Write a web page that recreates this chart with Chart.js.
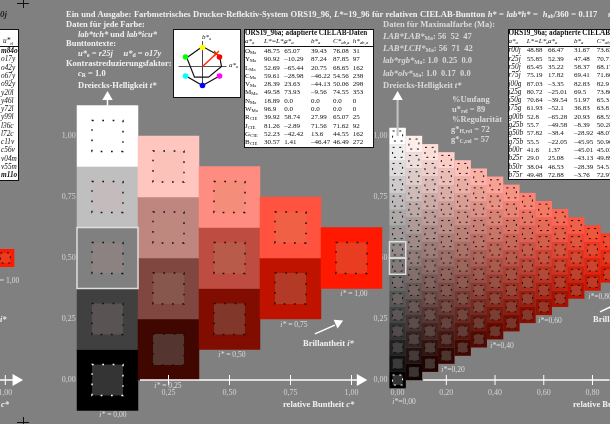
<!DOCTYPE html>
<html>
<head>
<meta charset="utf-8">
<script src="https://cdn.jsdelivr.net/npm/chart.js@4"></script>
<style>
html, body { margin: 0; padding: 0; width: 610px; height: 424px; overflow: hidden; background: #808080; }
body { position: relative; font-family: "Liberation Serif", serif; }
#main { position: absolute; left: 0; top: 0; filter: blur(0.35px); }
#overlay { filter: blur(0.3px); }
.t { position: absolute; white-space: nowrap; transform: translateY(-50%); line-height: 1; }
.b { font-weight: bold; color: #f0f0f0; font-size: 8.5px; }
.g { font-weight: bold; color: #d8d8d8; font-size: 8.5px; }
.s { color: #dcdcdc; font-size: 7.6px; }
.c { transform: translate(-50%, -50%); }
.d { color: #111; font-size: 7px; }
.n { color: #111; font-size: 7.3px; }
.dark { color: #222; font-weight: bold; font-style: italic; font-size: 9px; }
sub { font-size: 68%; line-height: 0; vertical-align: -0.25em; }
.box { position: absolute; background: #fff; border: 1.5px solid #111; box-sizing: border-box; }
.rule { position: absolute; background: #111; height: 1px; }
.tick { position: absolute; background: #111; }
</style>
</head>
<body>
<canvas id="main" width="610" height="424"></canvas>
<div id="overlay"></div>
<script>
// coarse triangle: c* and t* of each cell
const coarseC = [0, 0, 0, 0, 0, 0.25, 0.25, 0.25, 0.25, 0.5, 0.5, 0.5, 0.75, 0.75, 1];
const coarseT = [0, 0.25, 0.5, 0.75, 1, 0.125, 0.375, 0.625, 0.875, 0.25, 0.5, 0.75, 0.375, 0.625, 0.5];

// fine triangle, one t* list per c* column (last columns run off the page)
const fineC = [0, 0.067, 0.133, 0.2, 0.267, 0.333, 0.4, 0.467, 0.533, 0.6, 0.667, 0.733, 0.8, 0.867];
const fineT = [
    [0, 0.067, 0.133, 0.2, 0.267, 0.333, 0.4, 0.467, 0.533, 0.6, 0.667, 0.733, 0.8, 0.867, 0.933, 1],
    [0.033, 0.1, 0.167, 0.233, 0.3, 0.367, 0.433, 0.5, 0.567, 0.633, 0.7, 0.767, 0.833, 0.9, 0.967],
    [0.067, 0.133, 0.2, 0.267, 0.333, 0.4, 0.467, 0.533, 0.6, 0.667, 0.733, 0.8, 0.867, 0.933],
    [0.1, 0.167, 0.233, 0.3, 0.367, 0.433, 0.5, 0.567, 0.633, 0.7, 0.767, 0.833, 0.9],
    [0.133, 0.2, 0.267, 0.333, 0.4, 0.467, 0.533, 0.6, 0.667, 0.733, 0.8, 0.867],
    [0.167, 0.233, 0.3, 0.367, 0.433, 0.5, 0.567, 0.633, 0.7, 0.767, 0.833],
    [0.2, 0.267, 0.333, 0.4, 0.467, 0.533, 0.6, 0.667, 0.733, 0.8],
    [0.233, 0.3, 0.367, 0.433, 0.5, 0.567, 0.633, 0.7, 0.767],
    [0.267, 0.333, 0.4, 0.467, 0.533, 0.6, 0.667, 0.733],
    [0.3, 0.367, 0.433, 0.5, 0.567, 0.633, 0.7],
    [0.333, 0.4, 0.467, 0.533, 0.6, 0.667],
    [0.367, 0.433, 0.5, 0.567, 0.633],
    [0.4, 0.467, 0.533, 0.6],
    [0.433, 0.5, 0.567]
];

const coarseTicks = [0.25, 0.5, 0.75, 1];
const fineTicks = [0, 0.2, 0.4, 0.6, 0.8];
const yTicks = [0, 0.25, 0.5, 0.75, 1];

// hue diagram, a*/b* in diagram units
const hueDotA = [0, 17, 17, 0, -17, -17];
const hueDotB = [19, 9.5, -9.5, -19, -9.5, 9.5];
const hueDotColors = ['#ffff00', '#ff0000', '#ff00ff', '#0000ff', '#00ffff', '#00ff00'];
const huePolyA = [0, 17, 19, 6, -8, -15.7, 0];
const huePolyB = [20, 10.7, 0, -10.7, -10.7, 8.7, 20];
const hueLowerA = [-16.5, 0, 17];
const hueLowerB = [-9.5, -19, -9.5];

const tableHead = ['a*<sub>a</sub>', 'L*=L*<sub>a</sub>', 'a*<sub>a</sub>', 'b*<sub>a</sub>', 'C*<sub>ab,a</sub>', 'h*<sub>ab,a</sub>'];
const maNames = ['O<sub>Ma</sub>', 'Y<sub>Ma</sub>', 'L<sub>Ma</sub>', 'C<sub>Ma</sub>', 'V<sub>Ma</sub>', 'M<sub>Ma</sub>', 'N<sub>Ma</sub>', 'W<sub>Ma</sub>', 'R<sub>CIE</sub>', 'J<sub>CIE</sub>', 'G<sub>CIE</sub>', 'B<sub>CIE</sub>'];
const maL = ['48.75', '90.92', '52.69', '59.61', '28.39', '49.58', '18.89', '96.9', '39.92', '81.26', '52.23', '30.57'];
const maA = ['65.07', '–10.29', '–65.44', '–28.98', '23.63', '73.93', '0.0', '0.0', '58.74', '–2.89', '–42.42', '1.41'];
const maB = ['39.43', '87.24', '20.75', '–46.22', '–44.13', '–9.56', '0.0', '0.0', '27.99', '71.56', '13.6', '–46.47'];
const maC = ['76.08', '87.85', '68.65', '54.56', '50.06', '74.55', '0.0', '0.0', '65.07', '71.62', '44.55', '46.49'];
const maH = ['31', '97', '162', '238', '298', '353', '0', '0', '25', '92', '162', '272'];

const stepNames = ['r00j', 'r25j', 'r50j', 'r75j', 'j00g', 'j25g', 'j50g', 'j75g', 'g00b', 'g25b', 'g50b', 'g75b', 'b00r', 'b25r', 'b50r', 'b75r'];
const stepL = ['48.88', '55.85', '65.45', '75.19', '87.03', '80.72', '70.64', '61.93', '52.8', '55.7', '57.82', '55.5', '41.6', '29.0', '38.04', '49.48'];
const stepA = ['66.47', '52.39', '35.22', '17.82', '–3.35', '–25.01', '–39.54', '–52.1', '–65.28', '–49.58', '–38.4', '–22.05', '1.37', '25.08', '46.53', '72.88'];
const stepB = ['31.67', '47.48', '58.37', '69.41', '82.83', '69.5', '51.97', '36.83', '20.93', '–8.39', '–28.92', '–45.95', '–45.01', '–43.13', '–28.39', '–3.76'];
const stepC = ['73.63', '70.71', '68.17', '71.66', '82.9', '73.86', '65.3', '63.8', '68.55', '50.28', '48.07', '50.96', '45.03', '49.89', '54.51', '72.97'];

const elemNames = ['m84o', 'o17y', 'o42y', 'o67y', 'o92y', 'y20l', 'y46l', 'y72l', 'y99l', 'l36c', 'l72c', 'c11v', 'c56v', 'v04m', 'v55m', 'm11o'];

const coarsePoints = coarseC.map((c, i) => ({ x: c, y: coarseT[i] }));
const finePoints = [];
fineC.forEach((c, i) => fineT[i].forEach(t => finePoints.push({ x: c, y: t })));

const maRgb = [255, 25, 0];

function outerRgb(c, t) {
    const w = Math.max(t - c / 2, 0);
    return maRgb.map(v => w * 255 + c * v);
}
function outerColor(ctx) {
    const v = outerRgb(ctx.raw.x, ctx.raw.y);
    return `rgb(${v[0]},${v[1]},${v[2]})`;
}
// inner squares: printed output, lifted black point, warm in the mids, duller red
const innerPull = [22, 0, 18];
function innerColor(ctx) {
    const c = ctx.raw.x;
    const v = outerRgb(c, ctx.raw.y).map((o, k) => {
        const n = o / 255;
        return 52 + 203 * Math.pow(n, 1.2) - (k ? 40 * n * (1 - n) : 0) - innerPull[k] * c;
    });
    return `rgb(${v[0]},${v[1]},${v[2]})`;
}

function squares(points, xAxisID, side, color) {
    return {
        data: points, xAxisID: xAxisID, yAxisID: 'y', showLine: false,
        pointStyle: 'rect', pointRadius: side / Math.SQRT2, pointBorderWidth: 0,
        pointBackgroundColor: color
    };
}
function line(xs, ys, xAxisID, color, width) {
    return {
        data: xs.map((x, i) => ({ x: x, y: ys[i] })), xAxisID: xAxisID, yAxisID: 'y',
        showLine: true, borderColor: color, borderWidth: width, pointRadius: 0
    };
}
function arrow(x, y, xAxisID, rotation, color, radius) {
    return {
        data: [{ x: x, y: y }], xAxisID: xAxisID, yAxisID: 'y', showLine: false,
        pointStyle: 'triangle', pointRotation: rotation, pointRadius: radius,
        pointBorderWidth: 0, pointBackgroundColor: color
    };
}
function tickMarks(values, xAxisID) {
    return {
        data: values.map(v => ({ x: v, y: 0 })), xAxisID: xAxisID, yAxisID: 'y', showLine: false,
        pointStyle: 'line', pointRotation: 90, pointRadius: 5,
        pointBorderWidth: 1, pointBorderColor: '#ffffff'
    };
}
function outline(points, xAxisID, side) {
    return {
        data: points, xAxisID: xAxisID, yAxisID: 'y', showLine: false,
        pointStyle: 'rect', pointRadius: side / Math.SQRT2,
        pointBorderWidth: 1.5, pointBorderColor: '#dedede', pointBackgroundColor: 'rgba(0,0,0,0)'
    };
}

const coarseInner = squares(coarsePoints, 'x', 31, innerColor);
coarseInner.marks = { side: 31, dash: [1.7, 8.63] };
const fineInner = squares(finePoints, 'x2', 10, innerColor);
fineInner.marks = { side: 10, dash: [2, 4.67] };
const farInner = squares([{ x: 1, y: 0.5 }], 'x0', 10, innerColor);
farInner.marks = { side: 10, dash: [2, 4.67] };

const innerMarks = {
    id: 'innerMarks',
    afterDatasetsDraw(chart) {
        const g = chart.ctx;
        chart.data.datasets.forEach((ds, i) => {
            if (!ds.marks) return;
            g.save();
            g.lineWidth = ds.marks.side > 20 ? 1.4 : 1;
            g.setLineDash(ds.marks.dash);
            chart.getDatasetMeta(i).data.forEach((pt, j) => {
                const raw = ds.data[j];
                g.strokeStyle = (raw.x === 0 && raw.y === 0) ? '#ffffff' : '#111111';
                const s = ds.marks.side;
                g.strokeRect(pt.x - s / 2, pt.y - s / 2, s, s);
            });
            g.restore();
        });
    }
};

function comma(v) { return v.toFixed(2).replace('.', ','); }
const tickFont = { family: 'Liberation Serif', size: 8 };
// the axes sit inside the plot, they must not take room from it
function noRoom(axis) {
    axis.width = axis.isHorizontal() ? axis.width : 0;
    axis.height = axis.isHorizontal() ? 0 : axis.height;
    axis.paddingLeft = axis.paddingRight = axis.paddingTop = axis.paddingBottom = 0;
}
function xScale(min, max, ticks) {
    return {
        type: 'linear', min: min, max: max, position: { y: 0 },
        grid: { display: false, drawTicks: false }, border: { display: false },
        afterFit: noRoom,
        afterBuildTicks(axis) { axis.ticks = ticks.map(v => ({ value: v })); },
        ticks: { color: '#d2d2d2', font: tickFont, padding: 8, autoSkip: false, maxRotation: 0, callback: comma }
    };
}
function yScale(atX) {
    return {
        type: 'linear', min: -44 / 244, max: 380 / 244, position: { x: atX },
        grid: { display: false }, border: { display: false },
        afterFit: noRoom,
        afterBuildTicks(axis) { axis.ticks = yTicks.map(v => ({ value: v })); },
        ticks: { color: '#d2d2d2', font: tickFont, padding: 1, autoSkip: false, callback: comma }
    };
}

new Chart(document.getElementById('main'), {
    type: 'scatter',
    plugins: [innerMarks],
    data: {
        datasets: [
            tickMarks(coarseTicks, 'x'),
            tickMarks(fineTicks.slice(1), 'x2'),
            tickMarks([1], 'x0'),
            arrow(1.036, 0, 'x', 90, '#ffffff', 7),
            arrow(1.044, 0, 'x0', 90, '#ffffff', 7),
            arrow(0, 1.16, 'x', 0, '#ffffff', 6),
            arrow(0, 1.16, 'x2', 0, '#ffffff', 6),
            arrow(0.945, 0.234, 'x', 65, '#ffffff', 5.5),
            line([0.133, 1.03], [0, 0], 'x', '#ffffff', 1.5),
            line([0.105, 0.87], [0, 0], 'x2', '#ffffff', 1.5),
            line([0.978, 1.036], [0, 0], 'x0', '#ffffff', 1.5),
            line([0, 0], [1.12, 1.16], 'x', '#ffffff', 1.5),
            line([0, 0], [1.0, 1.16], 'x2', '#c4c4c4', 2),
            line([0.85, 0.932], [0.189, 0.225], 'x', '#ffffff', 1.5),
            line([0.831, 0.875], [0.279, 0.3], 'x2', '#ffffff', 1.5),
            outline([{ x: 0, y: 0.5 }], 'x', 61),
            outline([{ x: 0, y: 0.533 }, { x: 0, y: 0.467 }], 'x2', 16.27),
            coarseInner,
            fineInner,
            farInner,
            squares(coarsePoints, 'x', 61.5, outerColor),
            squares(finePoints, 'x2', 16.5, outerColor),
            squares([{ x: 1, y: 0.5 }], 'x0', 18, outerColor)
        ]
    },
    options: {
        responsive: false,
        animation: false,
        events: [],
        layout: { padding: 0, autoPadding: false },
        plugins: { legend: { display: false }, tooltip: { enabled: false } },
        scales: {
            x: xScale(-107.5 / 244, 502.5 / 244, coarseTicks),
            x2: xScale(-397.6 / 243.6, 212.4 / 243.6, fineTicks),
            x0: xScale(238.7 / 244, 848.7 / 244, [1]),
            y: yScale(-0.13),
            y2: yScale(1.1475)
        }
    }
});

// text, boxes and tables
const overlay = document.getElementById('overlay');
function put(cls, x, y, html) {
    const el = document.createElement('div');
    el.className = 't ' + cls;
    el.style.left = x + 'px';
    el.style.top = y + 'px';
    el.innerHTML = html;
    overlay.appendChild(el);
    return el;
}
function box(x, y, w, h) {
    const el = document.createElement('div');
    el.className = 'box';
    el.style.cssText = `left:${x}px;top:${y}px;width:${w}px;height:${h}px`;
    overlay.appendChild(el);
    return el;
}
function rule(x, y, w) {
    const el = document.createElement('div');
    el.className = 'rule';
    el.style.cssText = `left:${x}px;top:${y}px;width:${w}px`;
    overlay.appendChild(el);
}

put('b', 66, 14, 'Ein und Ausgabe: Farbmetrisches Drucker-Reflektiv-System ORS19_96, <i>L*</i>=19_96 für relativen CIELAB-Buntton <i>h*</i> = <i>lab*h*</i> = &nbsp;<i>h</i><sub>ab</sub>/360 = 0.117').style.wordSpacing = '0.35px';
put('b', 608, 14, '<i>m</i>');
put('b', 66, 24, 'Daten für jede Farbe:');
put('b', 78, 34, '<i>lab*tch*</i> und <i>lab*icu*</i>');
put('b', 66, 43, 'Bunttontexte:');
put('b', 78, 53, '<i>u*</i><sub>e</sub> = <i>r25j</i> &nbsp;&nbsp;&nbsp; <i>u*</i><sub>d</sub> = <i>o17y</i>');
put('b', 66, 63, 'Kontrastreduzierungsfaktor:');
put('b', 78, 73, '<i>c</i><sub>R</sub> = 1.0');
put('b', 78, 85, 'Dreiecks-Helligkeit <i>t*</i>');

put('g', 383, 24, 'Daten für Maximalfarbe (Ma):');
put('g', 383, 36, '<i>LAB*LAB*</i><sub>Ma</sub>: 56 &nbsp;52 &nbsp;47');
put('g', 383, 48, '<i>LAB*LCH*</i><sub>Ma</sub>: 56 &nbsp;71 &nbsp;42');
put('g', 383, 60, '<i>lab*rgb*</i><sub>Ma</sub>: 1.0 &nbsp;0.25 &nbsp;0.0');
put('g', 383, 73, '<i>lab*olv*</i><sub>Ma</sub>: 1.0 &nbsp;0.17 &nbsp;0.0');
put('g', 383, 85, 'Dreiecks-Helligkeit <i>t*</i>');
put('g', 452, 99, '%Umfang');
put('g', 452, 109, 'u*<sub>rel</sub> = 89');
put('g', 452, 119, '%Regularität');
put('g', 451, 129, 'g*<sub>H,rel</sub> = 72');
put('g', 451, 139, 'g*<sub>C,rel</sub> = 57');

put('b', 303, 343, 'Brillantheit <i>i*</i>');
put('b', 283, 404, 'relative Buntheit <i>c*</i>');
put('b', 593, 319, 'Brillantheit <i>i*</i>');
put('b', 573, 404, 'relative Buntheit <i>c*</i>');
put('b', 0, 319, '<i>i*</i>');
put('b', 1, 404, '<i>c*</i>');
put('s', -8, 281, '<i>i*</i> = 1,00');

const coarseBrill = ['0,00', '0,25', '0,50', '0,75', '1,00'];
const coarseBrillX = [113, 168, 232, 294, 354];
const coarseBrillY = [415, 386, 355, 325, 294];
coarseBrill.forEach((s, i) => put('s c', coarseBrillX[i], coarseBrillY[i], '<i>i*</i> = ' + s));
const fineBrill = ['0,00', '0,20', '0,40', '0,60', '0,80'];
const fineBrillX = [404, 453, 502, 550, 600];
const fineBrillY = [402, 370, 346, 321, 297];
fineBrill.forEach((s, i) => put('s c', fineBrillX[i], fineBrillY[i], '<i>i*</i>=' + s));

put('dark', 0, 14, '0j');

// crop crosses
[[23, 2.5], [23, 421.5]].forEach(p => {
    const h = document.createElement('div');
    h.className = 'tick';
    h.style.cssText = `left:${p[0] - 6}px;top:${p[1]}px;width:12px;height:1px`;
    const v = document.createElement('div');
    v.className = 'tick';
    v.style.cssText = `left:${p[0]}px;top:${p[1] - 5}px;width:1px;height:10px`;
    overlay.appendChild(h);
    overlay.appendChild(v);
});

// clipped element table on the left
box(-10, 29, 28.5, 151.5);
put('n', 3, 41, '<i>u*</i><sub>d</sub>');
rule(-10, 46, 28);
elemNames.forEach((n, i) => {
    const el = put('n', 1, 51.2 + i * 8.26, '<i>' + n + '</i>');
    if (i === 0 || i === elemNames.length - 1) el.style.fontWeight = 'bold';
});

// hue diagram box
box(173.3, 29, 68, 68.5);
const hueCanvas = document.createElement('canvas');
hueCanvas.width = 65;
hueCanvas.height = 65;
hueCanvas.style.cssText = 'position:absolute;left:174.8px;top:30.5px';
overlay.appendChild(hueCanvas);
put('d', 202, 37, '<i>b*</i><sub>a</sub>');
put('d', 229, 65, '<i>a*</i><sub>a</sub>');
function huePath(xs, ys, color, width) {
    return {
        data: xs.map((x, i) => ({ x: x, y: ys[i] })), showLine: true,
        borderColor: color, borderWidth: width, pointRadius: 0
    };
}
new Chart(hueCanvas, {
    type: 'scatter',
    data: {
        datasets: [
            {
                data: hueDotA.map((a, i) => ({ x: a, y: hueDotB[i] })), showLine: false,
                pointRadius: 2.8, pointBorderWidth: 0, pointBackgroundColor: hueDotColors
            },
            {
                data: [{ x: 14, y: 13 }], showLine: false, pointStyle: 'crossRot', pointRadius: 3.5,
                pointBorderWidth: 1.2, pointBorderColor: '#ff2a00'
            },
            huePath([0, 14], [0, 13], '#ff2a00', 1.5),
            huePath(huePolyA, huePolyB, '#111111', 1.2),
            huePath(hueLowerA, hueLowerB, '#111111', 1.2),
            huePath([0, 0], [25, -19], '#444444', 1),
            huePath([-24, 24], [0, 0], '#555555', 1)
        ]
    },
    options: {
        responsive: false,
        animation: false,
        events: [],
        layout: { padding: 0, autoPadding: false },
        plugins: { legend: { display: false }, tooltip: { enabled: false } },
        scales: {
            x: { type: 'linear', display: false, min: -27.5, max: 37.5 },
            y: { type: 'linear', display: false, min: -29.5, max: 35.5 }
        }
    }
});

// Ma data table
box(244, 29, 130, 119);
put('d', 245, 33.5, '<b>ORS19_96a; adaptierte CIELAB-Daten</b>').style.fontSize = '7.2px';
const maX = [245, 264, 284.3, 311, 333, 352.7];
tableHead.forEach((h, i) => put('d', maX[i], 41, '<i>' + h + '</i>'));
rule(244, 46, 130);
maNames.forEach((n, i) => {
    const y = 51 + i * 8.28;
    [n, maL[i], maA[i], maB[i], maC[i], maH[i]].forEach((s, k) => put('d', maX[k], y, s));
});

// hue step table, runs off the page
box(507.7, 29, 130, 151);
put('d', 508.5, 33.5, '<b>ORS19_96a; adaptierte CIELAB-Daten</b>').style.fontSize = '7.2px';
const stepX = [508.5, 526.7, 548, 574, 596.7];
const stepHead = tableHead.slice(0, 5);
stepHead.forEach((h, i) => put('d', stepX[i], 41, '<i>' + h + '</i>'));
rule(507.7, 46, 130);
stepNames.forEach((n, i) => {
    const y = 50.3 + i * 8.31;
    put('n', stepX[0], y, '<i>' + n + '</i>');
    [stepL[i], stepA[i], stepB[i], stepC[i]].forEach((s, k) => put('d', stepX[k + 1], y, s));
});
</script>
</body>
</html>
